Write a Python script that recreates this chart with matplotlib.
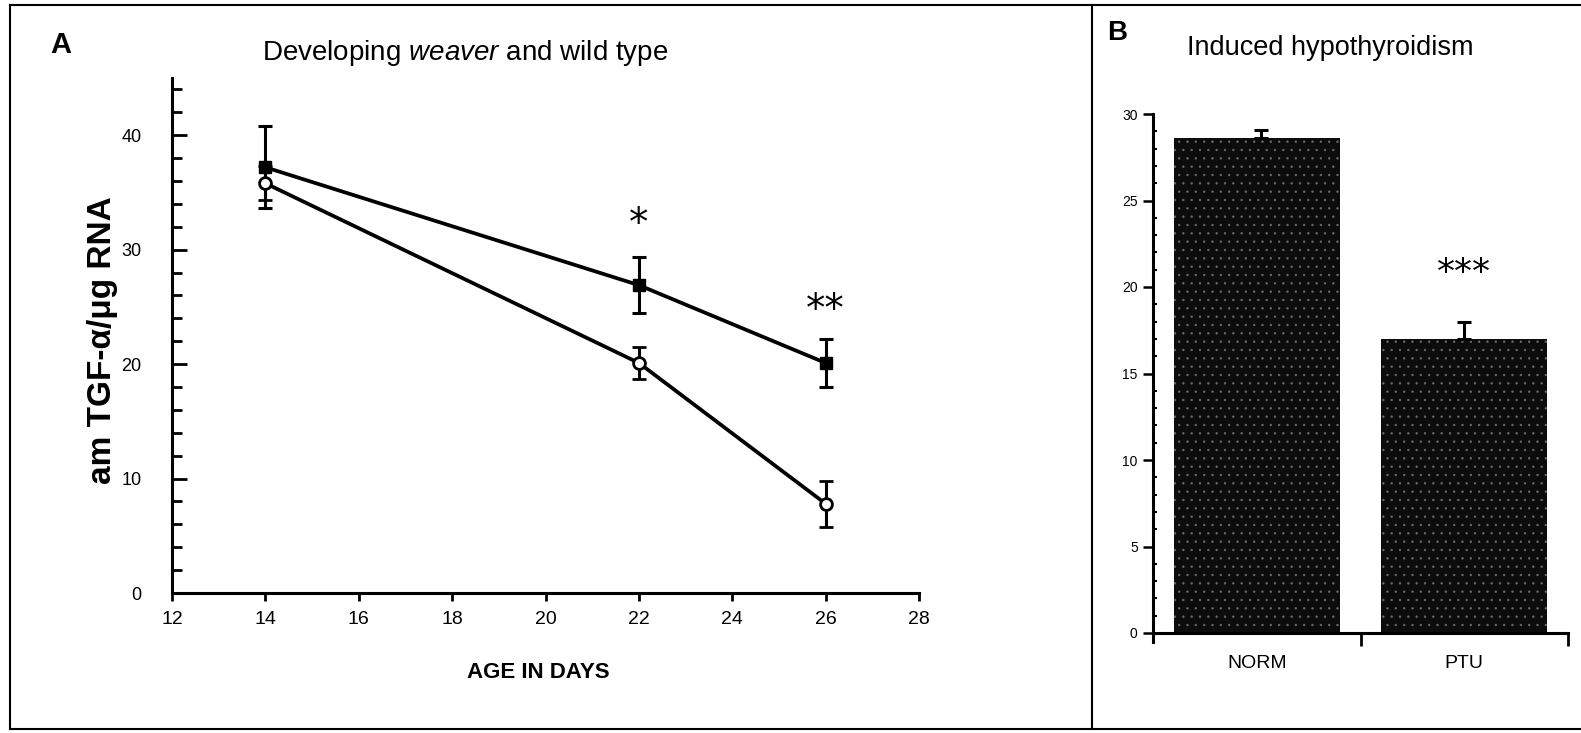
import numpy as np
import matplotlib.pyplot as plt
from matplotlib.lines import Line2D

plt.rcParams['font.family'] = ['Liberation Sans', 'DejaVu Sans']
plt.rcParams['mathtext.fontset'] = 'custom'
plt.rcParams['mathtext.rm'] = 'Liberation Sans'
plt.rcParams['mathtext.it'] = 'Liberation Sans:italic'
plt.rcParams['hatch.linewidth'] = 0.5

# panel A data - TGF-alpha mRNA vs age
age = [14, 22, 26]
weaver = [37.2, 26.9, 20.1]
weaver_err = [3.6, 2.45, 2.1]
wild = [35.8, 20.1, 7.8]
wild_err = [1.5, 1.4, 2.0]
stars_a = ['*', '**']
stars_a_x = [22, 26]
stars_a_y = [32.2, 24.7]

# panel B data - hypothyroidism
groups = ['NORM', 'PTU']
bar_vals = [28.6, 17.0]
bar_err = [0.5, 0.95]
stars_b = '***'
stars_b_y = 20.8

W, H = 1581, 733
fig = plt.figure(figsize=(W / 100, H / 100), dpi=100)

def box(l, r, b, t):
    return [l / W, 1 - b / H, (r - l) / W, (b - t) / H]

#Panel A
ax = fig.add_axes(box(172, 919, 593, 78))
ax.errorbar(age, weaver, yerr=weaver_err, color='black', lw=2.7, marker='s',
            ms=8.5, mfc='black', mec='black', elinewidth=2.2, capsize=5, capthick=2.2, zorder=3)
ax.errorbar(age, wild, yerr=wild_err, color='black', lw=2.7, marker='o',
            ms=8.5, mfc='white', mec='black', mew=2, elinewidth=2.2, capsize=5, capthick=2.2, zorder=3)
for s, x, y in zip(stars_a, stars_a_x, stars_a_y):
    ax.text(x, y, s, ha='center', va='center', fontsize=28, family='DejaVu Sans')

ax.set_xlim(12, 28)
ax.set_ylim(0, 45)
ax.set_xticks(np.arange(12, 29, 2))
ax.set_yticks([0, 10, 20, 30, 40])
ax.set_yticks(np.arange(0, 45, 2), minor=True)
ax.spines[['top', 'right']].set_visible(False)
ax.spines['left'].set_linewidth(2.2)
ax.spines['bottom'].set_linewidth(2.2)
ax.tick_params(axis='y', which='major', direction='in', length=11, width=2, pad=22, labelsize=13)
ax.tick_params(axis='y', which='minor', direction='in', length=7, width=2)
ax.tick_params(axis='x', direction='out', length=6, width=2, pad=7, labelsize=14)

fig.text(103 / W, 1 - 340 / H, 'am TGF-α/μg RNA', rotation=90, ha='center', va='center',
         fontsize=24, fontweight='bold')
fig.text(538 / W, 1 - 672 / H, 'AGE IN DAYS', ha='center', va='center', fontsize=16, fontweight='bold')
fig.text(50 / W, 1 - 45 / H, 'A', ha='left', va='center', fontsize=21, fontweight='bold')
fig.text(465 / W, 1 - 53 / H, r'Developing $\it{weaver}$ and wild type', ha='center', va='center', fontsize=20)

#Panel B
bx = fig.add_axes(box(1153, 1568, 633, 114))
bx.bar([0.5, 1.5], bar_vals, width=0.8, color='#0c0c0c', edgecolor='#6a6a6a', hatch='..', lw=0)
bx.errorbar([0.52, 1.5], bar_vals, yerr=[[0, 0], bar_err], fmt='none', ecolor='black',
            elinewidth=2.2, capsize=5, capthick=2.2)
bx.text(1.5, stars_b_y, stars_b, ha='center', va='center', fontsize=26, family='DejaVu Sans')
bx.set_xlim(0, 2)
bx.set_ylim(0, 30)
bx.set_yticks(np.arange(0, 31, 5))
bx.set_yticks(np.arange(0, 31, 1), minor=True)
bx.set_xticks([1, 2])
bx.set_xticklabels([])
bx.set_xticks([0.5, 1.5], minor=True)
bx.set_xticklabels(groups, minor=True)
bx.spines[['top', 'right']].set_visible(False)
bx.spines['left'].set_linewidth(2.2)
bx.spines['bottom'].set_linewidth(2.2)
bx.spines['left'].set_bounds(-0.5, 30)
bx.tick_params(axis='y', which='major', direction='out', length=7, width=1.8, pad=4, labelsize=10)
bx.tick_params(axis='y', which='minor', direction='in', length=3, width=1.5)
bx.tick_params(axis='x', which='major', direction='out', length=9, width=2)
bx.tick_params(axis='x', which='minor', length=0, pad=16, labelsize=14)

fig.text(1107 / W, 1 - 33 / H, 'B', ha='left', va='center', fontsize=20, fontweight='bold')
fig.text(1330 / W, 1 - 48 / H, 'Induced hypothyroidism', ha='center', va='center', fontsize=19.5)

# outer frame
for xs, ys in [((10, 1581), (5, 5)), ((10, 10), (5, 729)), ((10, 1581), (729, 729)), ((1092, 1092), (5, 729))]:
    fig.add_artist(Line2D([x / W for x in xs], [1 - y / H for y in ys], color='black', lw=1.5))

fig.savefig('out.png', dpi=100)
